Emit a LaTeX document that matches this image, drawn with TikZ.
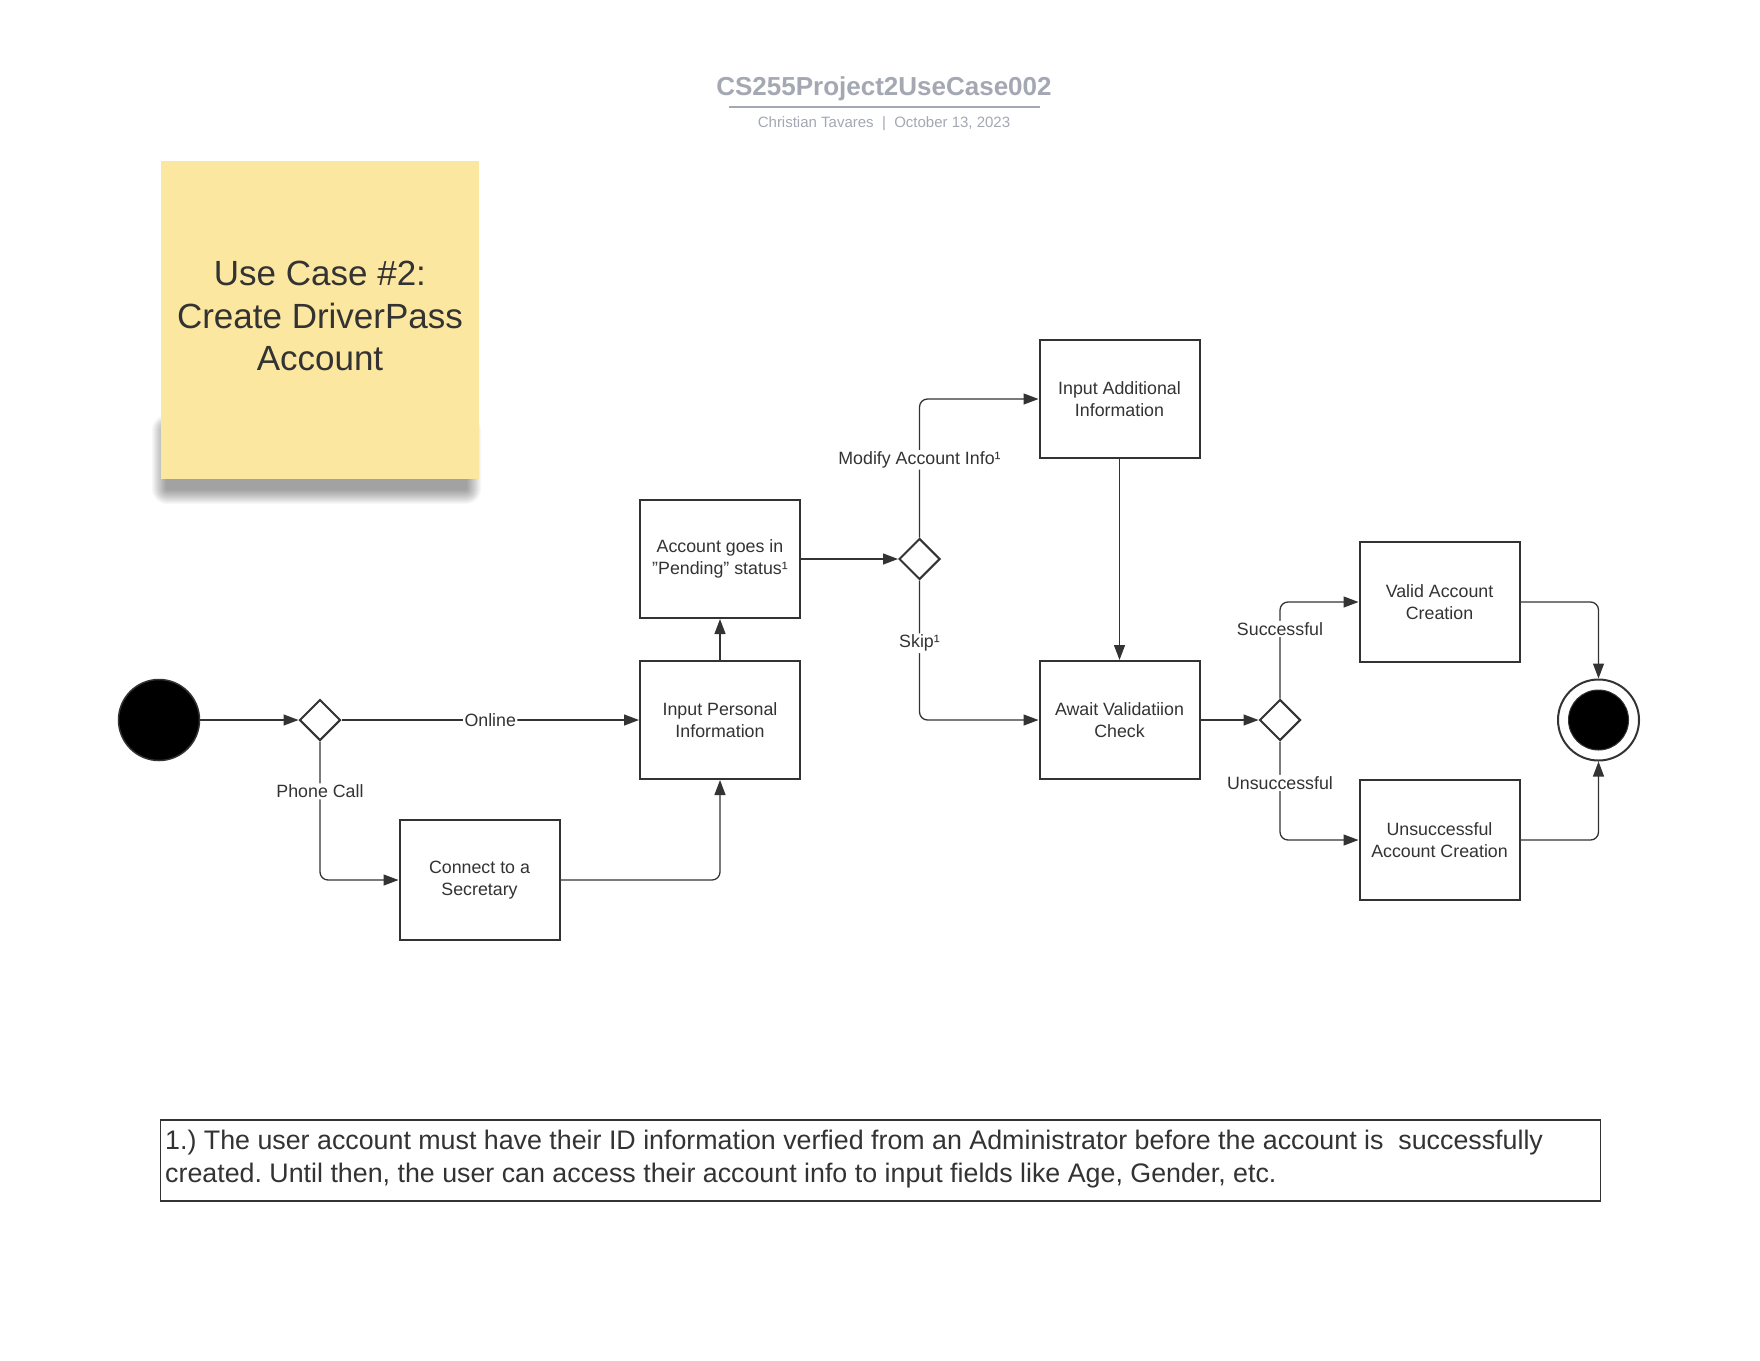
\documentclass[tikz,border=0pt]{standalone}
\usepackage{fontspec}
\setmainfont{Liberation Sans}
\usetikzlibrary{arrows.meta,shapes.geometric}
\frenchspacing

\definecolor{ink}{HTML}{333333}
\definecolor{titlegray}{HTML}{A3A8B3}
\definecolor{sticky}{HTML}{FCE7A0}

\begin{document}
\begin{tikzpicture}[x=1pt,y=-1pt,
  box/.style={draw=ink, line width=2pt, minimum width=160pt, minimum height=118pt,
    inner sep=0pt, align=center, font=\fontsize{17.8}{21.4}\selectfont, text=ink},
  dec/.style={draw=ink, line width=2pt, diamond, minimum width=41pt, minimum height=41pt,
    inner sep=0pt, fill=white},
  flow/.style={draw=ink, line width=1.3pt, -{Triangle[length=15pt,width=11pt]},
    rounded corners=8pt},
  lbl/.style={fill=white, inner sep=1.5pt, font=\fontsize{17.8}{21.4}\selectfont, text=ink},
]
% canvas
\fill[white] (0,0) rectangle (1760,1360);
\useasboundingbox (0,0) rectangle (1760,1360);

% title block
\node[anchor=base, font=\bfseries\fontsize{26}{30}\selectfont, text=titlegray, inner sep=0pt]
  (title) at (884,95) {CS255Project2UseCase002};
\draw[titlegray, line width=1.8pt] (729,107) -- (1040,107);
\node[anchor=base, font=\fontsize{15}{18}\selectfont, text=titlegray, inner sep=0pt]
  (subtitle) at (884,127.5) {Christian Tavares\ \ |\ \ October 13, 2023};

% sticky note shadow (soft, below the note)
\foreach \k in {1,...,15}{
  \fill[black, opacity=0.028, rounded corners=\k pt] (167-\k,430-\k) rectangle (466+\k,489+\k);
}
% sticky note
\node[fill=sticky, minimum width=318.5pt, minimum height=318.5pt, inner sep=0pt]
  (note) at (319.75,319.75) {};
\node[align=center, font=\fontsize{35}{42.5}\selectfont, text=ink, inner sep=0pt]
  (notetext) at (320,316) {Use Case \#2:\\Create DriverPass\\Account};

% nodes
\node[circle, fill=black, draw=ink, line width=1.5pt, minimum size=81pt, inner sep=0pt]
  (start) at (159,720) {};
\node[dec] (d1) at (320,720) {};
\node[box] (personal) at (720,720) {Input Personal\\Information};
\node[box] (pending) at (720,559) {Account goes in\\"Pending" status¹};
\node[box, minimum height=120pt] (secretary) at (479.5,880) {Connect to a\\Secretary};
\node[dec] (d2) at (919.5,559) {};
\node[box] (additional) at (1119.5,399) {Input Additional\\Information};
\node[box] (await) at (1119.5,720) {Await Validatiion\\Check};
\node[dec] (d3) at (1280,720) {};
\node[box, minimum height=120pt] (valid) at (1439.5,602) {Valid Account\\Creation};
\node[box, minimum height=120pt] (unsucc) at (1439.5,840) {Unsuccessful\\Account Creation};
\node[circle, draw=ink, line width=2pt, fill=white, minimum size=81pt, inner sep=0pt]
  (end) at (1598.5,720) {};
\node[circle, fill=black, draw=ink, line width=1pt, minimum size=60pt, inner sep=0pt]
  (endcore) at (end.center) {};

% connectors
\draw[flow] (start) -- (d1);
\draw[flow] (d1) -- node[lbl]{Online} (personal);
\draw[flow] (d1.south) |- node[lbl, pos=0.18]{Phone Call} (secretary.west);
\draw[flow] (secretary.east) -| (personal.south);
\draw[flow] (personal) -- (pending);
\draw[flow] (pending) -- (d2);
\draw[flow] (d2.north) |- node[lbl, pos=0.28]{Modify Account Info¹} (additional.west);
\draw[flow] (d2.south) |- node[lbl, pos=0.225]{Skip¹} (await.west);
\draw[flow] (additional) -- (await);
\draw[flow] (await) -- (d3);
\draw[flow] (d3.north) |- node[lbl, pos=0.36]{Successful} (valid.west);
\draw[flow] (d3.south) |- node[lbl, pos=0.21]{Unsuccessful} (unsucc.west);
\draw[flow] (valid.east) -| (end.north);
\draw[flow] (unsucc.east) -| (end.south);

% footnote
\node[draw=ink, line width=1.8pt, minimum width=1440pt, minimum height=81pt, inner sep=0pt]
  (foot) at (880.5,1160.5) {};
\node[anchor=west, align=left, inner sep=0pt, text=ink, font=\fontsize{26.8}{32.5}\selectfont]
  (foottext) at (165,1159) {1.) The user account must have their ID information verfied from an Administrator before the account is\ \ successfully\\created. Until then, the user can access their account info to input fields like Age, Gender, etc.};
\end{tikzpicture}
\end{document}
